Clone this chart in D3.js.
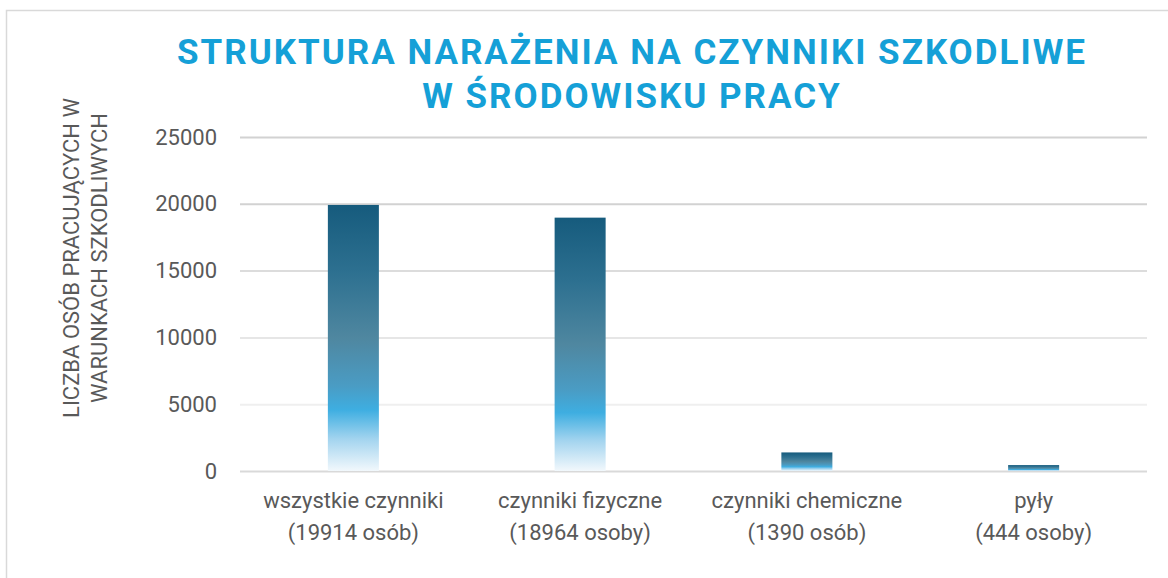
<!DOCTYPE html>
<html><head><meta charset="utf-8">
<script src="https://cdn.jsdelivr.net/npm/d3@7"></script>
<style>html,body{margin:0;padding:0;background:#fff}svg{display:block}</style>
</head><body>
<svg id="c" width="1168" height="578"></svg>
<script>
const categories = ["wszystkie czynniki", "czynniki fizyczne", "czynniki chemiczne", "pyły"];
const subLabels = ["(19914 osób)", "(18964 osoby)", "(1390 osób)", "(444 osoby)"];
const values = [19914, 18964, 1390, 444];
const yTicks = [0, 5000, 10000, 15000, 20000, 25000];
const titleLines = ["STRUKTURA NARAŻENIA NA CZYNNIKI SZKODLIWE", "W ŚRODOWISKU PRACY"];
const yTitleLines = ["LICZBA OSÓB PRACUJĄCYCH W", "WARUNKACH SZKODLIWYCH"];

const svg = d3.select("#c");
const font = "Roboto, 'Liberation Sans', sans-serif";
const m = {left: 240, right: 1147, top: 137, bottom: 471};

svg.append("rect").attr("x", 6.5).attr("y", 10.5).attr("width", 1200).attr("height", 600)
  .attr("fill", "#fff").attr("stroke", "#d9d9d9").attr("stroke-width", 1.5);

const defs = svg.append("defs");
const g = defs.append("linearGradient").attr("id", "barGrad").attr("x1", 0).attr("y1", 0).attr("x2", 0).attr("y2", 1);
[[0, "#165b7d"], [0.25, "#2d7090"], [0.5, "#4f87a0"], [0.68, "#4a9cc4"], [0.77, "#3eaee1"], [0.88, "#a3d4ef"], [1, "#f2f8fc"]]
  .forEach(([o, c]) => g.append("stop").attr("offset", o).attr("stop-color", c));

const x = d3.scaleBand().domain(categories).range([m.left, m.right]).paddingInner(0.775).paddingOuter(0.3875);
const y = d3.scaleLinear().domain([0, 25000]).range([m.bottom, m.top]);

const gridColors = d3.scaleOrdinal().domain(yTicks).range(["#d9d9d9", "#efefef", "#e6e6e6", "#dcdcdc", "#d2d2d2", "#d2d2d2"]);

const yAxis = svg.append("g").attr("transform", `translate(${m.left},0)`)
  .call(d3.axisLeft(y).tickValues(yTicks).tickSize(-(m.right - m.left)).tickPadding(23).tickFormat(d3.format("d")));
yAxis.select(".domain").remove();
yAxis.selectAll(".tick line").attr("stroke", d => gridColors(d)).attr("stroke-width", 2);
yAxis.selectAll(".tick text").attr("font-family", font).attr("font-size", 22).attr("fill", "#595959");

svg.append("g").selectAll("rect").data(values).join("rect")
  .attr("x", (d, i) => x(categories[i]))
  .attr("width", x.bandwidth())
  .attr("y", d => y(d))
  .attr("height", d => y(0) - y(d))
  .attr("fill", "url(#barGrad)");

const xAxis = svg.append("g").attr("transform", `translate(0,${m.bottom})`)
  .call(d3.axisBottom(x).tickSize(0).tickPadding(0).tickFormat(""));
xAxis.select(".domain").remove();
xAxis.selectAll(".tick").each(function(d, i) {
  const t = d3.select(this).append("text").attr("font-family", font).attr("font-size", 22)
    .attr("fill", "#595959").attr("text-anchor", "middle");
  t.append("tspan").attr("x", 0).attr("y", 37).text(d);
  t.append("tspan").attr("x", 0).attr("y", 69).text(subLabels[i]);
});

const yt = svg.append("text").attr("transform", "translate(0,258) rotate(-90)")
  .attr("font-family", font).attr("font-size", 22).attr("fill", "#595959").attr("text-anchor", "middle");
yTitleLines.forEach((l, i) => yt.append("tspan").attr("x", 0).attr("y", 79 + i * 28).text(l));

svg.append("g").selectAll("text").data(titleLines).join("text")
  .attr("x", 632).attr("y", (d, i) => 64 + i * 44)
  .attr("text-anchor", "middle").attr("font-family", font).attr("font-weight", 700)
  .attr("font-size", 35).attr("letter-spacing", 2).attr("fill", "#15a0d7").text(d => d);
</script>
</body></html>
